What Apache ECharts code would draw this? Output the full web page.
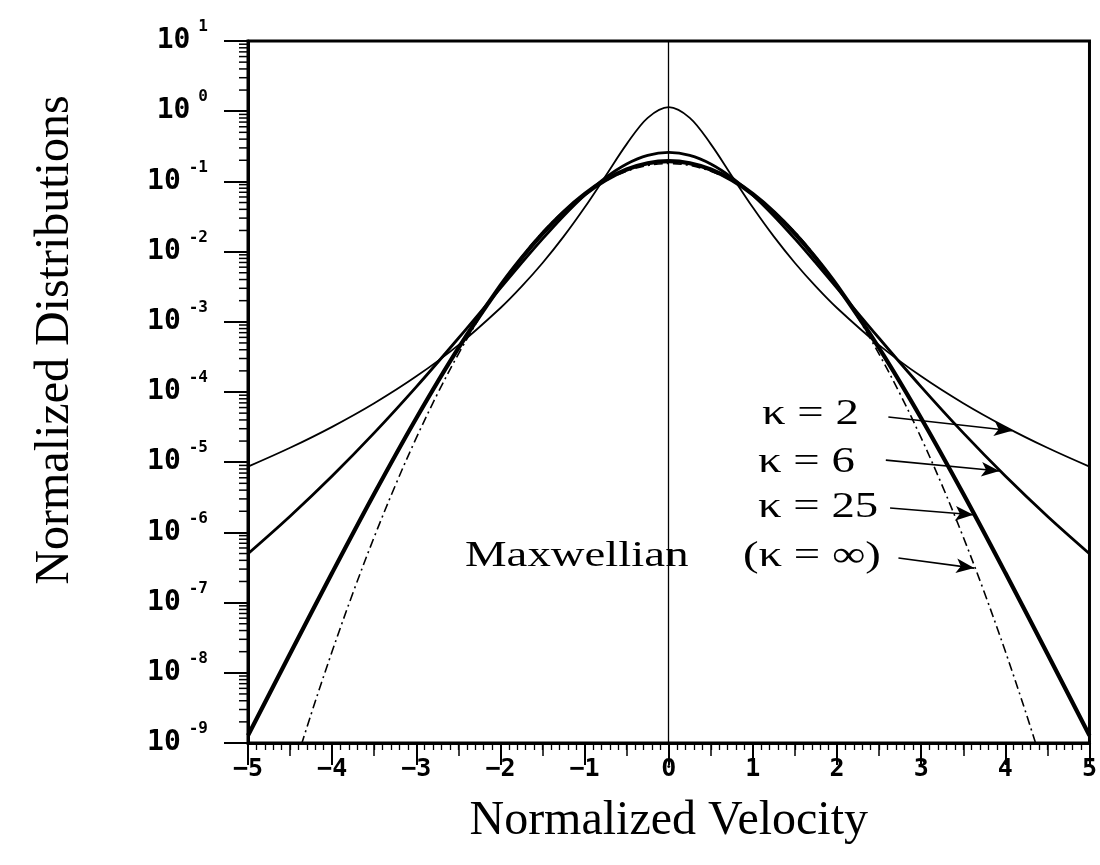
<!DOCTYPE html>
<html>
<head>
<meta charset="utf-8">
<script src="https://cdn.jsdelivr.net/npm/echarts@6/dist/echarts.min.js"></script>
<style>
html,body{margin:0;padding:0;background:#fff;}
#chart{width:1100px;height:865px;}
</style>
</head>
<body>
<div id="chart"></div>
<script>
// Normalized velocity grid used by the kappa curves
const velocity = [-5,-4.5,-4,-3.5,-3,-2.5,-2,-1.75,-1.5,-1.25,-1,-0.75,-0.5,-0.25,0,0.25,0.5,0.75,1,1.25,1.5,1.75,2,2.5,3,3.5,4,4.5,5];

const kappa2 = [8.6415e-6,1.6038e-5,3.1897e-5,6.913e-5,1.6712e-4,4.659e-4,1.5724e-3,3.1692e-3,6.8898e-3,0.016332,0.042456,0.11946,0.33964,0.8051,1.1463,0.8051,0.33964,0.11946,0.042456,0.016332,6.8898e-3,3.1692e-3,1.5724e-3,4.659e-4,1.6712e-4,6.913e-5,3.1897e-5,1.6038e-5,8.6415e-6];

const kappa6 = [4.9737e-7,1.6999e-6,6.3548e-6,2.6143e-5,1.1833e-4,5.829e-4,3.0162e-3,6.8346e-3,0.015147,0.032127,0.063523,0.11347,0.17725,0.23497,0.25879,0.23497,0.17725,0.11347,0.063523,0.032127,0.015147,6.8346e-3,3.0162e-3,5.829e-4,1.1833e-4,2.6143e-5,6.3548e-6,1.6999e-6,4.9737e-7];

const kappa25 = [1.2778e-9,1.8634e-8,2.6558e-7,3.5528e-6,4.2343e-5,4.2177e-4,3.2591e-3,8.0304e-3,0.018011,0.036402,0.065679,0.10493,0.1474,0.18113,0.19408,0.18113,0.1474,0.10493,0.065679,0.036402,0.018011,8.0304e-3,3.2591e-3,4.2177e-4,4.2343e-5,3.5528e-6,2.6558e-7,1.8634e-8,1.2778e-9];

// Maxwellian (kappa = infinity), finer velocity grid
const maxwellVelocity = [-4.5,-4.25,-4,-3.75,-3.5,-3.25,-3,-2.75,-2.5,-2.25,-2,-1.75,-1.5,-1.25,-1,-0.75,-0.5,-0.25,0,0.25,0.5,0.75,1,1.25,1.5,1.75,2,2.25,2.5,2.75,3,3.25,3.5,3.75,4,4.25,4.5];
const maxwellian = [2.883e-10,2.569e-9,2.021e-8,1.4029e-7,8.5936e-7,4.6456e-6,2.2163e-5,9.331e-5,3.467e-4,1.1367e-3,3.2893e-3,8.3996e-3,0.018929,0.037644,0.066067,0.10233,0.13986,0.16871,0.17959,0.16871,0.13986,0.10233,0.066067,0.037644,0.018929,8.3996e-3,3.2893e-3,1.1367e-3,3.467e-4,9.331e-5,2.2163e-5,4.6456e-6,8.5936e-7,1.4029e-7,2.021e-8,2.569e-9,2.883e-10];

// Axis tick definitions
const xTicks = [-5,-4,-3,-2,-1,0,1,2,3,4,5];
const yDecadeExponents = [-9,-8,-7,-6,-5,-4,-3,-2,-1,0,1];
const yMinorMultipliers = [2,3,4,5,6,7,8,9];

const yMinorTicks = [];
yDecadeExponents.slice(0, -1).forEach(function (e) {
  yMinorMultipliers.forEach(function (m) { yMinorTicks.push([-5, m * Math.pow(10, e)]); });
});

function pair(xs, ys) { return xs.map(function (x, i) { return [x, ys[i]]; }); }

const serif = '"Liberation Serif", "Times New Roman", serif';
const mono = '"DejaVu Sans Mono", monospace';

function arrowLine(start, end) {
  return [
    { coord: start, symbol: 'none' },
    { coord: end, symbol: 'arrow', symbolSize: [11, 18] }
  ];
}

function annotation(text, x, y) {
  return {
    type: 'text', x: x, y: y, scaleX: 1.3, z: 100,
    style: { text: text, fontSize: 36, fontFamily: serif, fill: '#000', align: 'left', verticalAlign: 'middle' }
  };
}

const chart = echarts.init(document.getElementById('chart'), null, { renderer: 'canvas' });

const option = {
  backgroundColor: '#fff',
  animation: false,
  grid: { left: 248, right: 8, top: 41, bottom: 122, show: true, borderColor: '#000', borderWidth: 3, backgroundColor: 'transparent' },
  xAxis: [
    {
      type: 'value', min: -5, max: 5, interval: 1,
      name: 'Normalized Velocity', nameLocation: 'middle', nameGap: 54,
      nameTextStyle: { fontFamily: serif, fontSize: 48, color: '#000' },
      axisLine: { show: true, onZero: false, lineStyle: { color: '#000', width: 3 } },
      axisTick: { show: true, inside: false, length: 22, lineStyle: { color: '#000', width: 2 } },
      minorTick: { show: true, splitNumber: 10, length: 7, lineStyle: { color: '#000', width: 1.3 } },
      splitLine: { show: false },
      axisLabel: {
        margin: 14, color: '#000', fontFamily: mono, fontWeight: 'bold', fontSize: 25,
        formatter: function (v) { return xTicks.indexOf(v) < 0 ? '' : (v < 0 ? '\u2212' + Math.abs(v) : String(v)); }
      }
    },
    {
      type: 'value', min: -5, max: 5, interval: 0.5, position: 'bottom',
      axisLine: { show: false, onZero: false },
      axisTick: { show: true, inside: false, length: 13, lineStyle: { color: '#000', width: 1.5 } },
      axisLabel: { show: false }, splitLine: { show: false }
    }
  ],
  yAxis: {
    type: 'log', logBase: 10, min: 1e-9, max: 10, splitNumber: 10,
    axisLine: { show: true, onZero: false, lineStyle: { color: '#000', width: 3 } },
    axisTick: { show: true, inside: false, length: 24, lineStyle: { color: '#000', width: 2 } },
    minorTick: { show: false },
    splitLine: { show: false },
    axisLabel: {
      margin: 40, color: '#000',
      formatter: function (v) {
        const e = Math.round(Math.log10(v));
        return '{b|10}{s|' + (e < 0 ? '-' + Math.abs(e) : String(e)) + '}';
      },
      rich: {
        b: { fontFamily: mono, fontWeight: 'bold', fontSize: 28, color: '#000', padding: [8, 0, 8, 0], verticalAlign: 'middle' },
        s: { fontFamily: mono, fontWeight: 'bold', fontSize: 16, color: '#000', verticalAlign: 'top', padding: [0, 0, 0, 8] }
      }
    }
  },
  graphic: [
    {
      type: 'text', x: 55, y: 340, rotation: Math.PI / 2, z: 100,
      style: { text: 'Normalized Distributions', fontSize: 48, fontFamily: serif, fill: '#000', align: 'center', verticalAlign: 'middle' }
    },
    annotation('\u03ba = 2', 762, 415),
    annotation('\u03ba = 6', 758, 463),
    annotation('\u03ba = 25', 758, 508),
    annotation('Maxwellian', 465, 557),
    annotation('(\u03ba = \u221e)', 743, 557)
  ],
  series: [
    {
      name: 'kappa = 2', type: 'line', data: pair(velocity, kappa2), symbol: 'none', smooth: 0.35, clip: true,
      lineStyle: { color: '#000', width: 1.8 },
      markLine: {
        silent: true, symbol: 'none', label: { show: false },
        lineStyle: { color: '#000', width: 1.6, type: 'solid' },
        data: [
          { xAxis: 0, lineStyle: { width: 1.3 } },
          arrowLine([2.61, 4.41e-5], [4.08, 2.8e-5])
        ]
      }
    },
    {
      name: 'kappa = 6', type: 'line', data: pair(velocity, kappa6), symbol: 'none', smooth: 0.35, clip: true,
      lineStyle: { color: '#000', width: 2.8 },
      markLine: {
        silent: true, symbol: 'none', label: { show: false },
        lineStyle: { color: '#000', width: 1.6, type: 'solid' },
        data: [arrowLine([2.58, 1.07e-5], [3.93, 7.5e-6])]
      }
    },
    {
      name: 'kappa = 25', type: 'line', data: pair(velocity, kappa25), symbol: 'none', smooth: 0.35, clip: true,
      lineStyle: { color: '#000', width: 4.2 },
      markLine: {
        silent: true, symbol: 'none', label: { show: false },
        lineStyle: { color: '#000', width: 1.6, type: 'solid' },
        data: [arrowLine([2.63, 2.23e-6], [3.62, 1.78e-6])]
      }
    },
    {
      name: 'Maxwellian', type: 'line', data: pair(maxwellVelocity, maxwellian), symbol: 'none', smooth: 0.35, clip: true,
      lineStyle: { color: '#000', width: 1.6, type: [9, 4, 2, 4] },
      markLine: {
        silent: true, symbol: 'none', label: { show: false },
        lineStyle: { color: '#000', width: 1.6, type: 'solid' },
        data: [arrowLine([2.73, 4.32e-7], [3.63, 3.1e-7])]
      }
    },
    {
      name: 'minor ticks', type: 'custom', data: yMinorTicks, clip: false, silent: true,
      renderItem: function (params, api) {
        const p = api.coord([api.value(0), api.value(1)]);
        return { type: 'line', shape: { x1: p[0] - 9, y1: p[1], x2: p[0], y2: p[1] }, style: { stroke: '#000', lineWidth: 1.5 } };
      }
    }
  ]
};

chart.setOption(option);
</script>
</body>
</html>
